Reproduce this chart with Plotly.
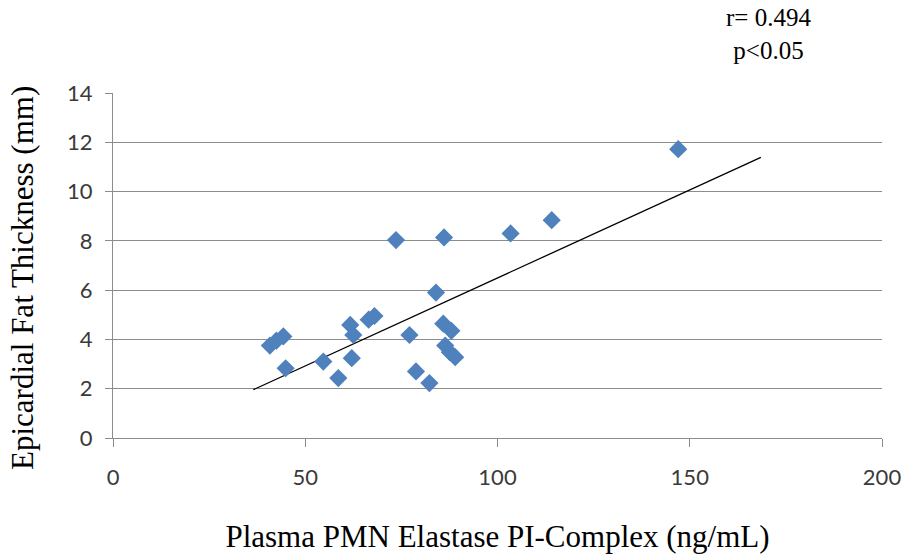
import numpy as np
import plotly.graph_objects as go

# Plasma PMN elastase PI-complex (ng/mL) vs epicardial fat thickness (mm)
elastase = [40.8, 42.5, 44.3, 44.9, 54.7, 58.6, 61.7, 62.5, 62.1, 66.5, 68.0,
            73.6, 77.1, 78.8, 82.3, 84.0, 85.9, 88.0, 86.4, 87.6, 89.0, 86.1,
            103.4, 114.1, 147.0]
fat_thickness = [3.75, 3.95, 4.12, 2.83, 3.10, 2.43, 4.59, 4.18, 3.24, 4.80, 4.95,
                 8.03, 4.18, 2.70, 2.23, 5.90, 4.64, 4.35, 3.75, 3.48, 3.28, 8.14,
                 8.30, 8.84, 11.72]

# Linear trendline (slope, intercept) and the x span it is drawn over
trend_slope = 0.0714
trend_intercept = -0.645
trend_x = [36.5, 168.5]

x_ticks = [0, 50, 100, 150, 200]
y_ticks = [0, 2, 4, 6, 8, 10, 12, 14]

trend_y = [trend_slope * v + trend_intercept for v in trend_x]

fig = go.Figure()
fig.add_trace(go.Scatter(
    x=trend_x, y=trend_y, mode="lines",
    line=dict(color="black", width=1.3),
    hoverinfo="skip", showlegend=False,
))
fig.add_trace(go.Scatter(
    x=elastase, y=fat_thickness, mode="markers",
    marker=dict(symbol="diamond", size=14, color="#4F81BD",
                line=dict(width=0)),
    showlegend=False,
))

grid_color = "#8C8C8C"
serif = "'Liberation Serif', 'Times New Roman', serif"
tick_font = dict(family="Lato, 'Open Sans', sans-serif", size=22, color="#3A3A3A")
title_font = dict(family=serif, size=31, color="black")

fig.update_xaxes(
    range=[0, 200], tickvals=x_ticks, showgrid=False, automargin=False,
    showline=True, linecolor=grid_color, linewidth=1,
    ticks="outside", ticklen=8, tickcolor=grid_color, tickwidth=1,
    tickfont=tick_font, ticklabelstandoff=12, zeroline=False,
    title=dict(text="Plasma PMN Elastase PI-Complex (ng/mL)", font=title_font, standoff=36),
)
fig.update_yaxes(
    range=[0, 14], tickvals=y_ticks, showgrid=True, gridcolor=grid_color, gridwidth=1,
    automargin=False,
    showline=True, linecolor=grid_color, linewidth=1,
    ticks="outside", ticklen=7, tickcolor=grid_color, tickwidth=1,
    tickfont=tick_font, ticklabelstandoff=8, zeroline=False,
)

plot_l, plot_r, plot_t, plot_b = 113, 25, 93, 116
plot_w = 907 - plot_l - plot_r
plot_h = 554 - plot_t - plot_b

# y-axis title, set slightly below the plot-area centre
fig.add_annotation(
    x=(22 - plot_l) / plot_w, y=(554 - plot_b - 278) / plot_h,
    xref="paper", yref="paper", text="Epicardial Fat Thickness (mm)",
    showarrow=False, textangle=-90, xanchor="center", yanchor="middle",
    font=title_font,
)

# statistics note above the upper-right corner of the plot area
fig.add_annotation(
    x=(768 - plot_l) / plot_w, y=(554 - plot_b - 34) / plot_h,
    xref="paper", yref="paper", text="r= 0.494<br>p<0.05",
    showarrow=False, xanchor="center", yanchor="middle",
    font=dict(family=serif, size=25, color="black"),
)

fig.update_layout(
    width=907, height=554,
    margin=dict(l=plot_l, r=plot_r, t=plot_t, b=plot_b, autoexpand=False),
    plot_bgcolor="white", paper_bgcolor="white",
)

fig.write_html("out.html")
